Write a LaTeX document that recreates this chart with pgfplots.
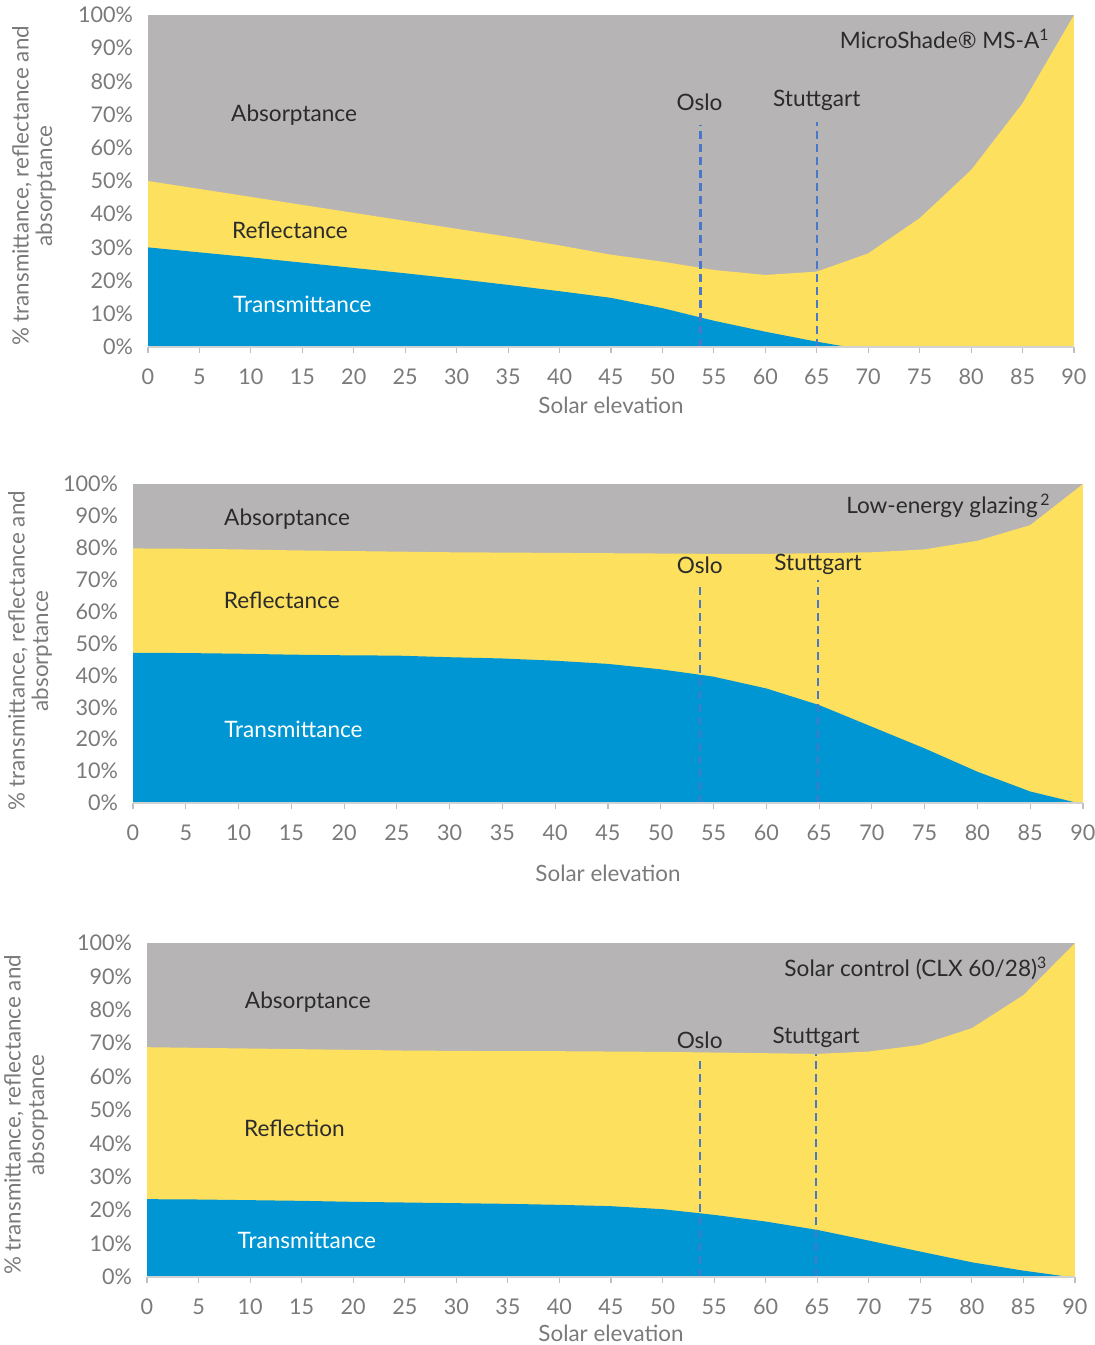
\documentclass[border=0pt]{standalone}
\usepackage{fontspec}
\setmainfont{Lato}
\usepackage{pgfplots}
\pgfplotsset{compat=1.18}
\definecolor{cgray}{HTML}{B6B4B5}
\definecolor{cyel}{HTML}{FDE05E}
\definecolor{cblue}{HTML}{0096D4}
\definecolor{cdash}{HTML}{4A78C8}
\definecolor{ctick}{HTML}{7A7A7A}
\definecolor{ctext}{HTML}{2B2B2B}
\tikzset{
  lab/.style={font=\fontsize{11.3}{13}\selectfont, text=ctext},
  dsh/.style={cdash, line width=1.05pt, dash pattern=on 4pt off 2.5pt},
  xlab/.style={font=\fontsize{11.2}{13}\selectfont, text=ctick},
  ylab/.style={rotate=90, align=center, font=\fontsize{11.2}{11.8}\selectfont, text=ctick},
}
\pgfplotsset{
  panel/.style={
    scale only axis, xmin=0, xmax=90, ymin=0, ymax=100,
    xtick={0,5,...,90}, ytick={0,10,...,100},
    yticklabel={\pgfmathprintnumber{\tick}\%},
    /pgf/number format/assume math mode=true,
    axis x line*=bottom, axis y line*=left,
    x axis line style={draw=gray!35, line width=0.8pt},
    y axis line style={draw=none},
    xtick style={draw=gray!50, line width=0.6pt},
    ytick style={draw=none},
    tick align=outside, major tick length=3pt,
    ticklabel style={font=\fontsize{10.8}{12}\selectfont, text=ctick},
    xticklabel style={yshift=-4.5pt},
    yticklabel style={xshift=-1pt},
    axis on top,
    clip=false,
  },
}
\begin{document}
\begin{tikzpicture}
\path[use as bounding box] (0,0) rectangle (547pt,672.5pt);
% ---------- Panel 1 ----------
\begin{axis}[panel, at={(74pt,499pt)}, anchor=south west, width=463pt, height=166pt]
\addplot[fill=cgray, draw=none] coordinates {(0,100)(90,100)} \closedcycle;
\addplot[fill=cyel, draw=none] coordinates {(0,50)(5,47.6)(10,45.2)(15,42.8)(20,40.4)(25,38)(30,35.6)(35,33.2)(40,30.6)(45,27.8)(50,25.7)(55,23.2)(60,21.7)(65,22.7)(70,28.2)(75,38.8)(80,53.3)(85,73.4)(90,100)} \closedcycle;
\addplot[fill=cblue, draw=none] coordinates {(0,30)(5,28.5)(10,27)(15,25.4)(20,23.8)(25,22.2)(30,20.5)(35,18.7)(40,16.8)(45,14.8)(50,11.7)(55,7.9)(60,4.6)(65,1.6)(68,0)(70,0)(75,0)(80,0)(85,0)(90,0)} \closedcycle;
\addplot[dsh] coordinates {(53.7,0)(53.7,66.9)};
\addplot[dsh] coordinates {(65,0)(65,67.8)};
\node[lab] at (axis cs:14.2,69.9) {Absorptance};
\node[lab] at (axis cs:13.8,35.2) {Reflectance};
\node[lab, text=white] at (axis cs:15.0,12.7) {Transmittance};
\node[lab, anchor=east] at (axis cs:88.3,92.8) {MicroShade® MS-A\textsuperscript{1}};
\node[lab] at (axis cs:53.6,73.8) {Oslo};
\node[lab] at (axis cs:65.0,74.4) {Stuttgart};
\node[xlab] at (rel axis cs:0.5,0) [yshift=-29pt] {Solar elevation};
\end{axis}
\node[ylab] at (17pt,579.5pt) {\% transmittance, reflectance and\\absorptance};
% ---------- Panel 2 ----------
\begin{axis}[panel, at={(66.5pt,271pt)}, anchor=south west, width=475pt, height=159.5pt]
\addplot[fill=cgray, draw=none] coordinates {(0,100)(90,100)} \closedcycle;
\addplot[fill=cyel, draw=none] coordinates {(0,79.8)(5,79.7)(10,79.5)(15,79.2)(20,79)(25,78.8)(30,78.6)(35,78.5)(40,78.4)(45,78.3)(50,78.2)(55,78.1)(60,78.1)(65,78.3)(70,78.6)(75,79.5)(80,82.2)(85,87.1)(90,100)} \closedcycle;
\addplot[fill=cblue, draw=none] coordinates {(0,47.1)(5,47)(10,46.8)(15,46.5)(20,46.3)(25,46.2)(30,45.7)(35,45.3)(40,44.6)(45,43.6)(50,41.9)(55,39.6)(60,35.9)(65,30.7)(70,23.9)(75,17.1)(80,9.8)(85,3.6)(89.5,0)(90,0)} \closedcycle;
\addplot[dsh] coordinates {(53.7,0)(53.7,69)};
\addplot[dsh] coordinates {(64.9,0)(64.9,70)};
\node[lab] at (axis cs:14.6,89.0) {Absorptance};
\node[lab] at (axis cs:14.1,63.6) {Reflectance};
\node[lab, text=white] at (axis cs:15.2,23.2) {Transmittance};
\node[lab, anchor=east] at (axis cs:87.6,93.1) {Low-energy glazing\textsuperscript{\,2}};
\node[lab] at (axis cs:53.7,74.6) {Oslo};
\node[lab] at (axis cs:64.9,74.9) {Stuttgart};
\node[xlab] at (rel axis cs:0.5,0) [yshift=-35pt] {Solar elevation};
\end{axis}
\node[ylab] at (15pt,347pt) {\% transmittance, reflectance and\\absorptance};
% ---------- Panel 3 ----------
\begin{axis}[panel, at={(73.5pt,34pt)}, anchor=south west, width=464pt, height=167pt]
\addplot[fill=cgray, draw=none] coordinates {(0,100)(90,100)} \closedcycle;
\addplot[fill=cyel, draw=none] coordinates {(0,68.8)(5,68.6)(10,68.4)(15,68.2)(20,68)(25,67.8)(30,67.7)(35,67.6)(40,67.6)(45,67.5)(50,67.4)(55,67.2)(60,67)(65,66.8)(70,67.5)(75,69.5)(80,74.5)(85,84.4)(90,100)} \closedcycle;
\addplot[fill=cblue, draw=none] coordinates {(0,23.3)(5,23.2)(10,23)(15,22.8)(20,22.5)(25,22.3)(30,22.1)(35,21.9)(40,21.6)(45,21.2)(50,20.3)(55,18.6)(60,16.6)(65,14.1)(70,10.9)(75,7.6)(80,4.4)(85,1.9)(89.5,0)(90,0)} \closedcycle;
\addplot[dsh] coordinates {(53.6,0)(53.6,65.9)};
\addplot[dsh] coordinates {(64.9,0)(64.9,66.8)};
\node[lab] at (axis cs:15.6,82.3) {Absorptance};
\node[lab] at (axis cs:14.3,44.6) {Reflection};
\node[lab, text=white] at (axis cs:15.5,11.1) {Transmittance};
\node[lab, anchor=east] at (axis cs:88.0,92.5) {Solar control (CLX 60/28)\textsuperscript{3}};
\node[lab] at (axis cs:53.6,71.0) {Oslo};
\node[lab] at (axis cs:64.9,71.6) {Stuttgart};
\node[xlab, anchor=base] at (rel axis cs:0.5,0) [yshift=-32.3pt] {Solar elevation};
\end{axis}
\node[ylab] at (13pt,115pt) {\% transmittance, reflectance and\\absorptance};
\end{tikzpicture}
\end{document}
